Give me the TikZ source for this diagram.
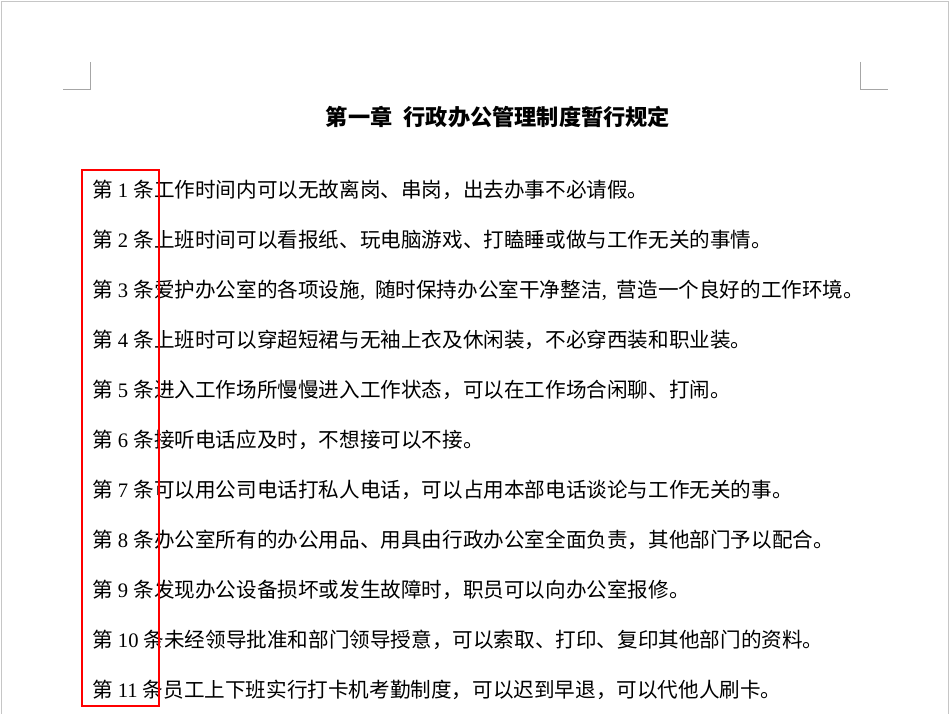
\documentclass[tikz,border=0pt]{standalone}
\usepackage{fontspec}
\setmainfont{Noto Sans CJK SC}
\newfontfamily\numfont{Liberation Serif}
\usetikzlibrary{positioning}
\newcommand\tiao[1]{第{\numfont\ #1\ }条}
\newcommand\dou{{\numfont,}\hspace{10pt}}

\begin{document}
\begin{tikzpicture}
  [
   x=1pt, y=-1pt,
   tiaowen/.style={anchor=base west, inner sep=0pt, font=\fontsize{20.6}{24}\selectfont}, % 条文样式
   biaoti/.style={anchor=base, inner sep=0pt, font=\fontsize{22.2}{26}\selectfont\bfseries} % 标题样式
  ]
  \useasboundingbox (0,0) rectangle (950,714);
  \fill[white] (0,0) rectangle (950,714);
  \draw[gray!45] (1,714) -- (1,1) -- (948,1) -- (948,714); % 页面边框
  \draw[gray!70] (63,89) -- (90,89) -- (90,62);   % 左上角标记
  \draw[gray!70] (860,62) -- (860,89) -- (888,89); % 右上角标记
  \node[biaoti] (title) at (498,126) {第一章\hspace{0.5em}行政办公管理制度暂行规定};
  \foreach \n/\txt in
    {
     1/{工作时间内可以无故离岗、串岗，出去办事不必请假。},
     2/{上班时间可以看报纸、玩电脑游戏、打瞌睡或做与工作无关的事情。},
     3/{爱护办公室的各项设施\dou 随时保持办公室干净整洁\dou 营造一个良好的工作环境。},
     4/{上班时可以穿超短裙与无袖上衣及休闲装，不必穿西装和职业装。},
     5/{进入工作场所慢慢进入工作状态，可以在工作场合闲聊、打闹。},
     6/{接听电话应及时，不想接可以不接。},
     7/{可以用公司电话打私人电话，可以占用本部电话谈论与工作无关的事。},
     8/{办公室所有的办公用品、用具由行政办公室全面负责，其他部门予以配合。},
     9/{发现办公设备损坏或发生故障时，职员可以向办公室报修。},
     10/{未经领导批准和部门领导授意，可以索取、打印、复印其他部门的资料。},
     11/{员工上下班实行打卡机考勤制度，可以迟到早退，可以代他人刷卡。}
    } % 逐条排列
    \node[tiaowen] (t\n) at (92,{198+(\n-1)*49.9}) {\tiao{\n}\txt};
  \draw[red, line width=2pt] (82,170) rectangle (159,706); % 红框
\end{tikzpicture}
\end{document}
